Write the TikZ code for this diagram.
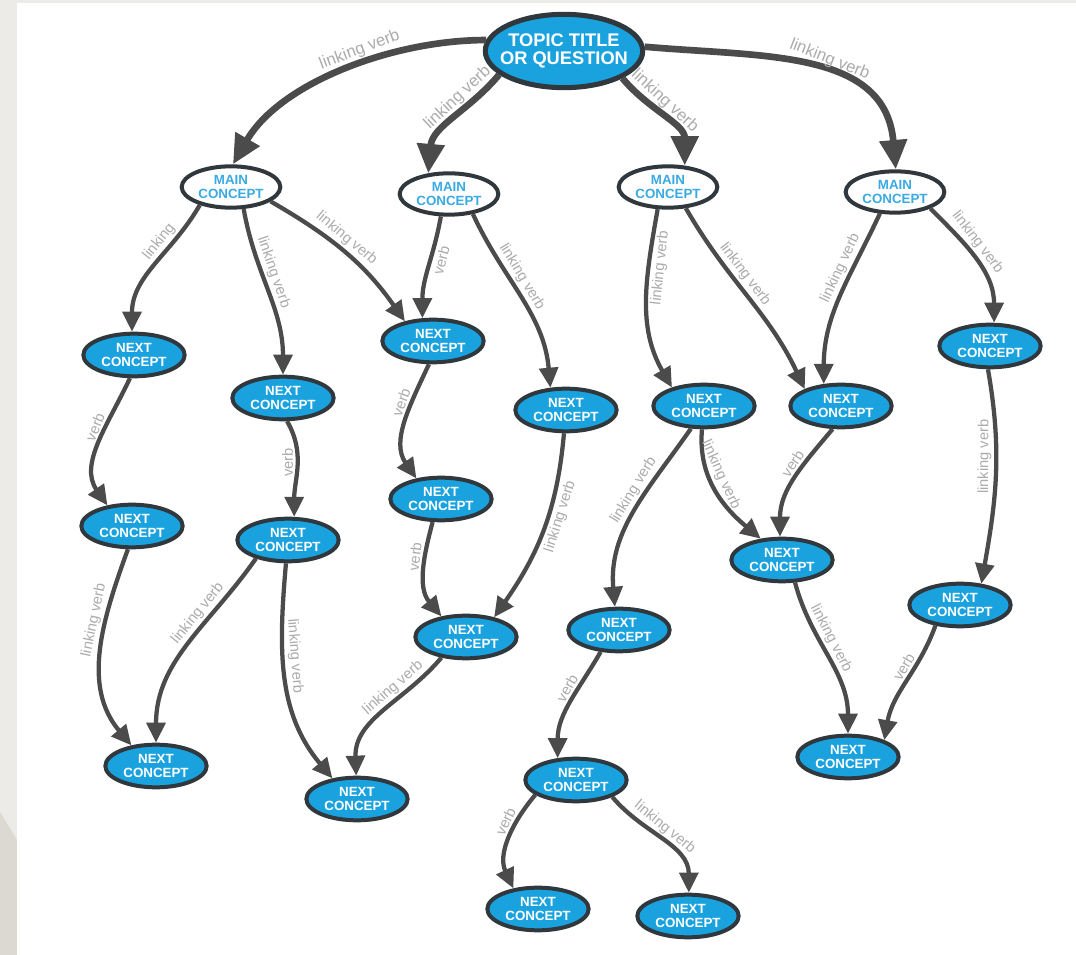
\documentclass[tikz,border=0pt]{standalone}
\usepackage{fontspec}
\setmainfont{Liberation Sans}
\usetikzlibrary{shapes.geometric,arrows.meta}

\definecolor{conceptblue}{HTML}{1AA2DF}
\definecolor{maintext}{HTML}{3AAAE2}
\definecolor{rimgray}{HTML}{30383D}
\definecolor{arrowgray}{HTML}{4B4B4B}
\definecolor{verbgray}{HTML}{ABABAB}
\definecolor{pagegray}{HTML}{ECEBE8}
\definecolor{pagedark}{HTML}{DCD9D3}

\tikzset{
  concept/.style={ellipse, draw=rimgray, line width=3pt, inner sep=0pt, align=center,
    font=\bfseries\fontsize{10}{10}\selectfont},
  topicnode/.style={concept, fill=conceptblue, text=white, minimum width=118pt,
    minimum height=55pt, line width=3.8pt, inner xsep=-15pt,
    font=\bfseries\fontsize{13.7}{13.5}\selectfont},
  mainnode/.style={concept, fill=white, text=maintext, minimum width=74pt, minimum height=31pt},
  nextnode/.style={concept, fill=conceptblue, text=white, minimum width=76pt, minimum height=32pt},
  toparrow/.style={draw=arrowgray, line width=5pt, -{Triangle[length=22pt,width=20pt]}},
  subarrow/.style={draw=arrowgray, line width=3.2pt, -{Triangle[length=15pt,width=14pt]}},
  verblabel/.style={sloped, text=verbgray, inner sep=2pt, font=\fontsize{11}{11}\selectfont},
  toplabel/.style={verblabel, inner sep=1.5pt, font=\fontsize{12.5}{12.5}\selectfont}
}

\begin{document}
\begin{tikzpicture}[x=0.75pt, y=0.75pt]

    % Page with its grey frame
    \fill[pagegray] (0,0) rectangle (1076,-955);
    \fill[pagedark] (0,-812) -- (17,-840) -- (17,-955) -- (0,-955) -- cycle;
    \fill[white] (17,-3) rectangle (1076,-955);
    \useasboundingbox (0,0) rectangle (1076,-955);

    % The topic and the main concepts
    \node[topicnode] (topic) at (564,-51) {TOPIC TITLE\\OR QUESTION};
    \node[mainnode] (m1) at (231,-187) {MAIN\\CONCEPT};
    \node[mainnode] (m2) at (449,-194) {MAIN\\CONCEPT};
    \node[mainnode] (m3) at (668,-187) {MAIN\\CONCEPT};
    \node[mainnode] (m4) at (895,-192) {MAIN\\CONCEPT};

    % All the next concepts
    \foreach \name/\x/\y in {n1/134/355, n2/283/398, n3/433/341, n4/566/410,
        n5/704/406, n6/841/406, n7/990/346, n8/132/526, n9/288/540,
        n10/441/499, n11/782/560, n12/466/637, n13/619/630, n14/960/605,
        n15/156/766, n16/357/799, n17/848/757, n18/576/780, n19/538/909,
        n20/688/916}
      \node[nextnode] (\name) at (\x,-\y) {NEXT\\CONCEPT};

    % From the topic to the main concepts
    \draw[toparrow] (topic.172) to[out=180,in=60,looseness=0.85]
      node[toplabel,above,pos=.42] {linking verb} (m1.85);
    \draw[toparrow] (topic.200) to[out=-130,in=85]
      node[toplabel,above,pos=.35] {linking verb} (m2.135);
    \draw[toparrow] (topic.-25) to[out=-50,in=90]
      node[toplabel,above,pos=.4] {linking verb} (m3.52);
    \draw[toparrow] (topic.3) to[out=-5,in=95,looseness=1.1]
      node[toplabel,above,pos=.55] {linking verb} (m4.88);

    % From the main concepts to the first next concepts
    \draw[subarrow] (m1.-150) to[out=-120,in=90]
      node[verblabel,above,pos=.35] {linking} (n1.95);
    \draw[subarrow] (m1.-60) to[out=-80,in=90]
      node[verblabel,above,pos=.4] {linking verb} (n2.90);
    \draw[subarrow] (m1.-20) to[out=-30,in=125]
      node[verblabel,above,pos=.45] {linking verb} (n3.145);
    \draw[subarrow] (m2.-110) to[out=-100,in=90]
      node[verblabel,below,pos=.4] {verb} (n3.115);
    \draw[subarrow] (m2.-40) to[out=-65,in=95]
      node[verblabel,above,pos=.4] {linking verb} (n4.125);
    \draw[subarrow] (m3.-115) to[out=-100,in=120]
      node[verblabel,below,pos=.3] {linking verb} (n5.150);
    \draw[subarrow] (m3.-50) to[out=-60,in=115]
      node[verblabel,above,pos=.4] {linking verb} (n6.155);
    \draw[subarrow] (m4.-125) to[out=-115,in=90]
      node[verblabel,above,pos=.35] {linking verb} (n6.128);
    \draw[subarrow] (m4.-25) to[out=-45,in=90]
      node[verblabel,above,pos=.4] {linking verb} (n7.80);

    % Second row of links
    \draw[subarrow] (n1.-100) to[out=-115,in=125]
      node[verblabel,above,pos=.4] {verb} (n8.140);
    \draw[subarrow] (n2.-80) to[out=-60,in=90]
      node[verblabel,above,pos=.45] {verb} (n9.75);
    \draw[subarrow] (n3.-100) to[out=-115,in=125]
      node[verblabel,above,pos=.35] {verb} (n10.140);
    \draw[subarrow] (n4.-95) to[out=-95,in=55]
      node[verblabel,below,pos=.4] {linking verb} (n12.35);
    \draw[subarrow] (n5.-95) to[out=-95,in=140]
      node[verblabel,above,pos=.4] {linking verb} (n11.135);
    \draw[subarrow] (n6.-110) to[out=-130,in=90]
      node[verblabel,above,pos=.4] {verb} (n11.95);
    \draw[subarrow] (n5.-120) to[out=-125,in=95]
      node[verblabel,above,pos=.4] {linking verb} (n13.100);
    \draw[subarrow] (n7.-95) to[out=-80,in=80]
      node[verblabel,above,pos=.4] {linking verb} (n14.45);

    % Lower links
    \draw[subarrow] (n8.-100) to[out=-110,in=130]
      node[verblabel,above,pos=.35] {linking verb} (n15.140);
    \draw[subarrow] (n9.-150) to[out=-125,in=90]
      node[verblabel,above,pos=.35] {linking verb} (n15.90);
    \draw[subarrow] (n9.-95) to[out=-95,in=130]
      node[verblabel,above,pos=.4] {linking verb} (n16.140);
    \draw[subarrow] (n10.-110) to[out=-105,in=130]
      node[verblabel,above,pos=.35] {verb} (n12.140);
    \draw[subarrow] (n12.-140) to[out=-130,in=92]
      node[verblabel,above,pos=.35] {linking verb} (n16.92);
    \draw[subarrow] (n11.-60) to[out=-75,in=90]
      node[verblabel,above,pos=.4] {linking verb} (n17.90);
    \draw[subarrow] (n14.-140) to[out=-110,in=80]
      node[verblabel,above,pos=.4] {verb} (n17.25);
    \draw[subarrow] (n13.-130) to[out=-120,in=90]
      node[verblabel,above,pos=.4] {verb} (n18.130);
    \draw[subarrow] (n18.-160) to[out=-130,in=115]
      node[verblabel,above,pos=.35] {verb} (n19.140);
    \draw[subarrow] (n18.-25) to[out=-50,in=90]
      node[verblabel,above,pos=.45] {linking verb} (n20.88);
  \end{tikzpicture}
\end{document}
